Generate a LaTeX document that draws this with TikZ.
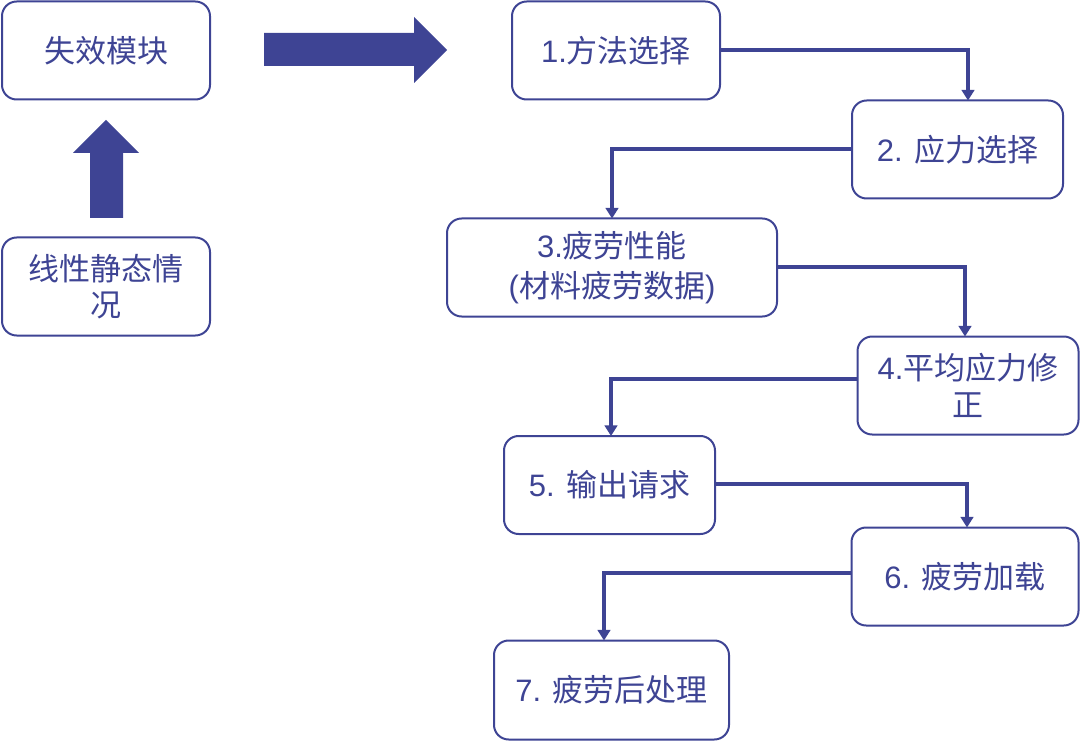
\documentclass[tikz,border=0pt]{standalone}
\usepackage{fontspec}
\setmainfont{Liberation Sans}
\newfontfamily\cjk{Noto Sans CJK SC}
\newcommand\zh[1]{{\cjk #1}}
\usetikzlibrary{arrows.meta,calc}
\definecolor{ink}{RGB}{62,68,148}
\tikzset{
  bx/.style 2 args={draw=ink, line width=1.5pt, rounded corners=11pt, fill=white,
    minimum width=#1*0.75pt, minimum height=#2*0.75pt, inner sep=0pt, outer sep=0pt,
    text=ink, align=center, font=\fontsize{23.25pt}{27pt}\selectfont},
  conn/.style={draw=ink, line width=3pt, -{Triangle[length=8pt,width=9.5pt]}},
  blockarrow/.style={fill=ink, draw=none}
}
\begin{document}
\begin{tikzpicture}[x=0.75pt,y=-0.75pt]
\useasboundingbox (0,0) rectangle (1080,741);
% left column
\node[bx={208}{98}] (fail) at (106,50.5) {\zh{失效模块}};
\node[bx={208}{98}] (lin) at (106,286.5) {\zh{线性静态情}\\\zh{况}};
% block arrows
\fill[blockarrow] (90,218) -- (90,153) -- (73,153) -- (106,120) -- (139,153) -- (123,153) -- (123,218) -- cycle;
\fill[blockarrow] (264,33) -- (414,33) -- (414,17) -- (447,50) -- (414,83) -- (414,66) -- (264,66) -- cycle;
% flow boxes
\node[bx={208}{98}] (b1) at (616,50.5) {1.\zh{方法选择}};
\node[bx={211}{98}] (b2) at (957.5,149.5) {2. \zh{应力选择}};
\node[bx={330}{98}, font=\fontsize{23.25pt}{30pt}\selectfont] (b3) at (612,267.5) {3.\zh{疲劳性能}\\(\zh{材料疲劳数据})};
\node[bx={221}{98}, font=\fontsize{23.25pt}{28pt}\selectfont] (b4) at (968,385.5) {4.\zh{平均应力修}\\\zh{正}};
\node[bx={211}{98}] (b5) at (609.5,485) {5. \zh{输出请求}};
\node[bx={227}{98}] (b6) at (965,576.5) {6. \zh{疲劳加载}};
\node[bx={235}{99}] (b7) at (611.5,690) {7. \zh{疲劳后处理}};
% connectors
\draw[conn] (b1.east) -| ($(b2.north)+(10.5,0)$);
\draw[conn] (b2.west) -| (b3.north);
\draw[conn] (b3.east) -| ($(b4.north)+(-3,0)$);
\draw[conn] ($(b4.west)+(0,-6.5)$) -| ($(b5.north)+(1.5,0)$);
\draw[conn] ($(b5.east)+(0,-1)$) -| ($(b6.north)+(2,0)$);
\draw[conn] ($(b6.west)+(0,-3.5)$) -| ($(b7.north)+(-7.5,0)$);
\end{tikzpicture}
\end{document}
